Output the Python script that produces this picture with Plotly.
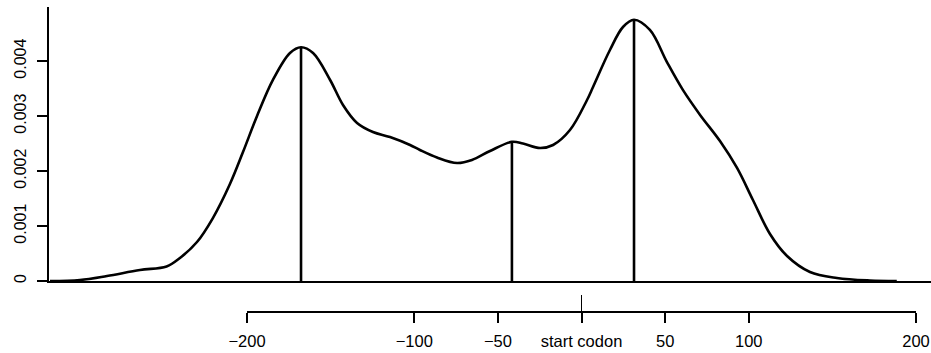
import plotly.graph_objects as go

# Position relative to the start codon (nt) and estimated density
position = [-317.8, -299.9, -283.7, -264.0, -248.1, -240.1, -229.9, -220.4, -210.2,
            -202.4, -194.0, -184.5, -174.3, -167.7, -160.5, -150.3, -142.6, -134.2,
            -124.7, -114.5, -102.5, -96.6, -86.4, -74.4, -65.5, -54.7, -41.6, -35.0,
            -24.8, -17.0, -6.9, 3.3, 6.9, 17.0, 24.8, 31.4, 40.9, 51.1, 60.7, 70.9,
            82.8, 93.0, 102.5, 112.7, 122.9, 136.6, 152.7, 172.4, 188.5]
density = [0.0, 0.018e-3, 0.091e-3, 0.20e-3, 0.264e-3, 0.418e-3, 0.709e-3, 1.145e-3, 1.764e-3,
           2.345e-3, 3.0e-3, 3.655e-3, 4.145e-3, 4.25e-3, 4.145e-3, 3.655e-3, 3.2e-3, 2.873e-3,
           2.709e-3, 2.618e-3, 2.473e-3, 2.382e-3, 2.245e-3, 2.145e-3, 2.2e-3, 2.364e-3, 2.53e-3,
           2.50e-3, 2.418e-3, 2.473e-3, 2.745e-3, 3.291e-3, 3.527e-3, 4.2e-3, 4.618e-3, 4.75e-3,
           4.564e-3, 3.98e-3, 3.47e-3, 3.02e-3, 2.545e-3, 2.055e-3, 1.473e-3, 0.855e-3, 0.455e-3,
           0.164e-3, 0.055e-3, 0.009e-3, 0.0]

# Modes of the density
peak_position = [-167.7, -41.6, 31.4]
peak_density = [4.25e-3, 2.53e-3, 4.75e-3]

# Axis ticks
x_ticks = [-200, -100, -50, 0, 50, 100, 200]
x_tick_labels = ["−200", "−100", "−50", "start codon", "50", "100", "200"]
y_ticks = [0, 0.001, 0.002, 0.003, 0.004]
y_tick_labels = ["0", "0.001", "0.002", "0.003", "0.004"]
START_CODON = 0

W, H = 931, 353
ML, MR, MT, MB = 49, 0, 7, 0
plot_w = W - ML - MR
paper_h = H - MT - MB

# bottom position axis spans -200..200
x2_domain = [(247 - ML) / plot_w, (916 - ML) / plot_w]
x2_range = [-200, 200]
scale = (x2_domain[1] - x2_domain[0]) * plot_w / (x2_range[1] - x2_range[0])
zero_px = ML + x2_domain[0] * plot_w - x2_range[0] * scale
x_range = [(ML - zero_px) / scale, (W - MR - zero_px) / scale]

y_bottom = (H - 281) / paper_h
axis2_pos = (H - 312) / paper_h

font = dict(family="Liberation Sans, Arial, sans-serif", size=16.5, color="#000")

fig = go.Figure()

# anchor trace for the position axis (drawn first, invisible)
fig.add_trace(go.Scatter(x=[START_CODON], y=[0], xaxis="x2", yaxis="y",
                         mode="markers", marker=dict(opacity=0),
                         hoverinfo="skip", showlegend=False))

# vertical lines at each mode
px, py = [], []
for p, d in zip(peak_position, peak_density):
    px += [p, p, None]
    py += [0, d, None]
fig.add_trace(go.Scatter(x=px, y=py, mode="lines",
                         line=dict(color="#000", width=2.6),
                         hoverinfo="skip", showlegend=False))

fig.add_trace(go.Scatter(x=position, y=density, mode="lines",
                         line=dict(color="#000", width=2.6, shape="spline", smoothing=1.0),
                         showlegend=False))

fig.add_shape(type="line", xref="x2", yref="paper",
              x0=START_CODON, x1=START_CODON,
              y0=(H - 322) / paper_h, y1=(H - 295) / paper_h,
              line=dict(color="#000", width=1))

fig.update_layout(
    width=W, height=H,
    margin=dict(l=ML, r=MR, t=MT, b=MB, pad=0, autoexpand=False),
    paper_bgcolor="white", plot_bgcolor="rgba(0,0,0,0)",
    font=font,
    xaxis=dict(range=x_range, domain=[0, 1], anchor="y", automargin=False,
               showline=True, linecolor="#000", linewidth=1.6,
               showgrid=False, zeroline=False, ticks="", showticklabels=False),
    yaxis=dict(range=[0, (281 - MT) / 55 * 0.001], domain=[y_bottom, 1],
               automargin=False,
               showline=True, linecolor="#000", linewidth=2,
               showgrid=False, zeroline=False,
               tickmode="array", tickvals=y_ticks, ticktext=y_tick_labels,
               ticks="outside", ticklen=10, tickwidth=1.6, tickcolor="#000",
               tickangle=-90, tickfont=dict(size=16), ticklabelstandoff=5),
    xaxis2=dict(range=x2_range, domain=x2_domain, anchor="free", position=axis2_pos,
                automargin=False,
                showline=True, linecolor="#000", linewidth=1.6,
                showgrid=False, zeroline=False,
                tickmode="array", tickvals=x_ticks, ticktext=x_tick_labels,
                ticks="outside", ticklen=10, tickwidth=1.8, tickcolor="#000",
                tickfont=dict(size=16.5), ticklabelstandoff=4),
)

fig.write_html("out.html")
